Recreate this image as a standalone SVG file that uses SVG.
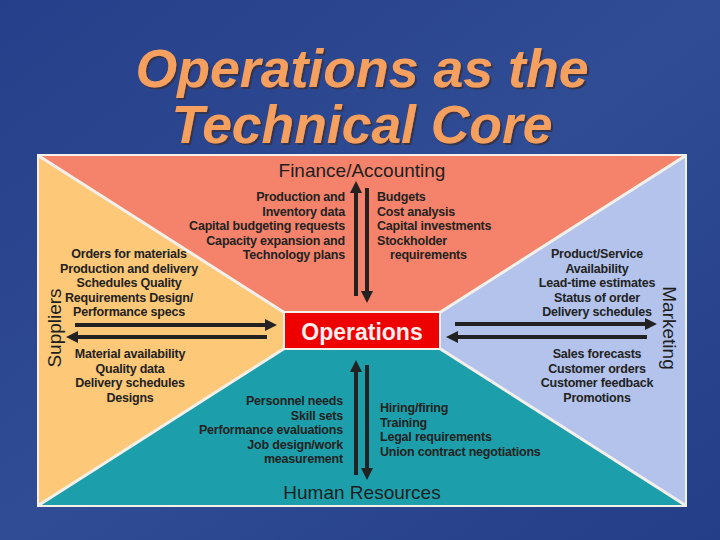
<svg xmlns="http://www.w3.org/2000/svg" width="720" height="540" viewBox="0 0 720 540">
<defs>
<linearGradient id="bg" x1="0" y1="0" x2="1" y2="1">
<stop offset="0" stop-color="#263f8a"/>
<stop offset="0.5" stop-color="#2f4c94"/>
<stop offset="1" stop-color="#243e88"/>
</linearGradient>
<filter id="shadow" x="-5%" y="-20%" width="110%" height="140%">
<feDropShadow dx="2" dy="2" stdDeviation="0.4" flood-color="#34344f" flood-opacity="1"/>
</filter>
<marker id="ah" viewBox="0 0 10 10" refX="5" refY="5" markerWidth="3" markerHeight="3" orient="auto-start-reverse" markerUnits="strokeWidth">
<path d="M0,0 L10,5 L0,10 z" fill="#222"/>
</marker>
<style>
.title{font-family:"Liberation Sans",Arial,sans-serif;font-weight:bold;font-style:italic;font-size:54px;text-anchor:middle;fill:#f6a05e}
.lbl{font-family:"Liberation Sans",Arial,sans-serif;font-size:19px;fill:#1e1e1e;text-anchor:middle}
.t{font-family:"Liberation Sans",Arial,sans-serif;font-size:12.5px;fill:#222;font-weight:bold;letter-spacing:-0.2px}
.r{text-anchor:end}.m{text-anchor:middle}
.arr{stroke:#222;stroke-width:4;fill:none;marker-end:url(#ah)}
.sep{stroke:#f4f0ea;stroke-width:3;fill:none}
</style>
</defs>
<rect width="720" height="540" fill="url(#bg)"/>
<g id="title" filter="url(#shadow)">
<text class="title" x="362" y="87" textLength="453" lengthAdjust="spacingAndGlyphs">Operations as the</text>
<text class="title" x="362" y="143" textLength="381" lengthAdjust="spacingAndGlyphs">Technical Core</text>
</g>
<g id="panel">
<rect x="37" y="154" width="650" height="353" fill="#f4f0ea"/>
<polygon id="finance-region" points="39,156 685,156 439,313 285,313" fill="#f5836b"/>
<polygon id="suppliers-region" points="39,156 285,313 285,348 39,505" fill="#fdc878"/>
<polygon id="marketing-region" points="685,156 685,505 439,348 439,313" fill="#b3c3eb"/>
<polygon id="hr-region" points="39,505 285,348 439,348 685,505" fill="#1c9faa"/>
<path class="sep" d="M39,156 L285,313 M685,156 L439,313 M39,505 L285,348 M685,505 L439,348"/>
<rect x="284" y="312" width="156" height="37" fill="#ee0000" stroke="#f4f0ea" stroke-width="2"/>
</g>
<g id="connectors">
<line class="arr" x1="356" y1="296" x2="356" y2="187"/>
<line class="arr" x1="367" y1="188" x2="367" y2="297"/>
<line class="arr" x1="356" y1="475" x2="356" y2="366"/>
<line class="arr" x1="367" y1="365" x2="367" y2="474"/>
<line class="arr" x1="75" y1="325" x2="271" y2="325"/>
<line class="arr" x1="267" y1="337" x2="72" y2="337"/>
<line class="arr" x1="455" y1="324" x2="651" y2="324"/>
<line class="arr" x1="647" y1="337" x2="452" y2="337"/>
</g>
<g id="operations">
<text x="362" y="340" font-family="'Liberation Sans',Arial,sans-serif" font-weight="bold" font-size="23" fill="#fbeeee" text-anchor="middle">Operations</text>
</g>
<g id="finance">
<text class="lbl" x="362" y="177">Finance/Accounting</text>
<text class="t r" x="345" y="201">Production and</text>
<text class="t r" x="345" y="215.5">Inventory data</text>
<text class="t r" x="345" y="230">Capital budgeting requests</text>
<text class="t r" x="345" y="244.5">Capacity expansion and</text>
<text class="t r" x="345" y="259">Technology plans</text>
<text class="t" x="377" y="201">Budgets</text>
<text class="t" x="377" y="215.5">Cost analysis</text>
<text class="t" x="377" y="230">Capital investments</text>
<text class="t" x="377" y="244.5">Stockholder</text>
<text class="t" x="390" y="259">requirements</text>
</g>
<g id="suppliers">
<text class="lbl" transform="translate(61,328) rotate(-90)">Suppliers</text>
<text class="t m" x="129" y="258">Orders for materials</text>
<text class="t m" x="129" y="272.5">Production and delivery</text>
<text class="t m" x="129" y="287">Schedules Quality</text>
<text class="t m" x="129" y="301.5">Requirements Design/</text>
<text class="t m" x="129" y="316">Performance specs</text>
<text class="t m" x="130" y="358">Material availability</text>
<text class="t m" x="130" y="372.5">Quality data</text>
<text class="t m" x="130" y="387">Delivery schedules</text>
<text class="t m" x="130" y="401.5">Designs</text>
</g>
<g id="marketing">
<text class="lbl" transform="translate(663,328) rotate(90)">Marketing</text>
<text class="t m" x="597" y="258">Product/Service</text>
<text class="t m" x="597" y="272.5">Availability</text>
<text class="t m" x="597" y="287">Lead-time estimates</text>
<text class="t m" x="597" y="301.5">Status of order</text>
<text class="t m" x="597" y="316">Delivery schedules</text>
<text class="t m" x="597" y="358">Sales forecasts</text>
<text class="t m" x="597" y="372.5">Customer orders</text>
<text class="t m" x="597" y="387">Customer feedback</text>
<text class="t m" x="597" y="401.5">Promotions</text>
</g>
<g id="human-resources">
<text class="lbl" x="362" y="499" fill="#0e2a30">Human Resources</text>
<text class="t r" x="343" y="405" fill="#14262c">Personnel needs</text>
<text class="t r" x="343" y="419.5" fill="#14262c">Skill sets</text>
<text class="t r" x="343" y="434" fill="#14262c">Performance evaluations</text>
<text class="t r" x="343" y="448.5" fill="#14262c">Job design/work</text>
<text class="t r" x="343" y="463" fill="#14262c">measurement</text>
<text class="t" x="380" y="412" fill="#14262c">Hiring/firing</text>
<text class="t" x="380" y="426.5" fill="#14262c">Training</text>
<text class="t" x="380" y="441" fill="#14262c">Legal requirements</text>
<text class="t" x="380" y="455.5" fill="#14262c">Union contract negotiations</text>
</g>
</svg>
